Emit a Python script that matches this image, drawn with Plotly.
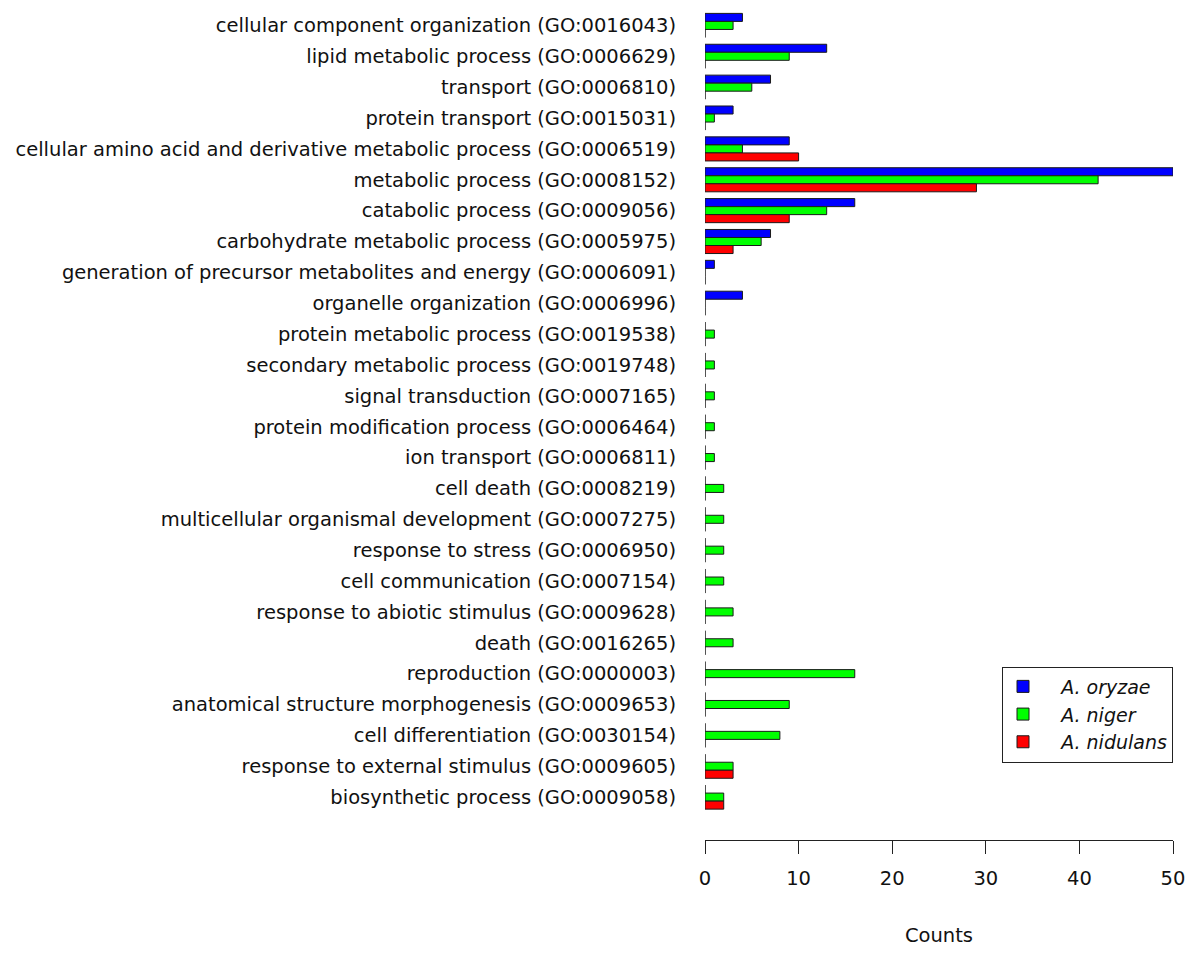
import plotly.graph_objects as go

categories = [
    "cellular component organization (GO:0016043)",
    "lipid metabolic process (GO:0006629)",
    "transport (GO:0006810)",
    "protein transport (GO:0015031)",
    "cellular amino acid and derivative metabolic process (GO:0006519)",
    "metabolic process (GO:0008152)",
    "catabolic process (GO:0009056)",
    "carbohydrate metabolic process (GO:0005975)",
    "generation of precursor metabolites and energy (GO:0006091)",
    "organelle organization (GO:0006996)",
    "protein metabolic process (GO:0019538)",
    "secondary metabolic process (GO:0019748)",
    "signal transduction (GO:0007165)",
    "protein modification process (GO:0006464)",
    "ion transport (GO:0006811)",
    "cell death (GO:0008219)",
    "multicellular organismal development (GO:0007275)",
    "response to stress (GO:0006950)",
    "cell communication (GO:0007154)",
    "response to abiotic stimulus (GO:0009628)",
    "death (GO:0016265)",
    "reproduction (GO:0000003)",
    "anatomical structure morphogenesis (GO:0009653)",
    "cell differentiation (GO:0030154)",
    "response to external stimulus (GO:0009605)",
    "biosynthetic process (GO:0009058)",
]

oryzae = [4, 13, 7, 3, 9, 50, 16, 7, 1, 4, 0, 0, 0, 0, 0, 0, 0, 0, 0, 0, 0, 0, 0, 0, 0, 0]
niger = [3, 9, 5, 1, 4, 42, 13, 6, 0, 0, 1, 1, 1, 1, 1, 2, 2, 2, 2, 3, 3, 16, 9, 8, 3, 2]
nidulans = [0, 0, 0, 0, 10, 29, 9, 3, 0, 0, 0, 0, 0, 0, 0, 0, 0, 0, 0, 0, 0, 0, 0, 0, 3, 2]

series = [
    ("A. oryzae", oryzae, "#0000ff"),
    ("A. niger", niger, "#00ff00"),
    ("A. nidulans", nidulans, "#ff0000"),
]

fig = go.Figure()
for name, vals, col in series:
    fig.add_trace(go.Bar(
        y=categories, x=vals, name="\u00a0\u00a0\u00a0<i>" + name + "</i>",
        orientation="h",
        marker=dict(color=col, line=dict(color="#1a1a1a", width=1)),
    ))

n = len(categories)
fig.update_layout(
    width=1200, height=957,
    margin=dict(l=697, r=35, t=2, b=125),
    paper_bgcolor="white", plot_bgcolor="white",
    barmode="group", bargap=0.22, bargroupgap=0,
    font=dict(family="DejaVu Sans", size=19.5, color="#111111"),
    showlegend=True,
    legend=dict(
        x=1, xanchor="right", y=0.209, yanchor="top",
        bordercolor="#222222", borderwidth=1, bgcolor="white",
        font=dict(size=19, family="DejaVu Sans"),
        traceorder="normal", tracegroupgap=0,
    ),
)
fig.update_yaxes(
    type="category", categoryorder="array", categoryarray=categories,
    range=[n - 1 + 1.39, -0.5],
    showline=False, showgrid=False, zeroline=False, ticks="",
    ticklabelstandoff=28,
)
fig.update_xaxes(
    range=[0, 50], tickvals=[0, 10, 20, 30, 40, 50],
    showline=True, linecolor="#222222", linewidth=1,
    ticks="outside", ticklen=13, tickcolor="#222222",
    showgrid=False, zeroline=False,
    tickfont=dict(size=19.5),
    ticklabelstandoff=8,
    title=dict(text="Counts", font=dict(size=19.5), standoff=38),
)

fig.write_html("out.html")
